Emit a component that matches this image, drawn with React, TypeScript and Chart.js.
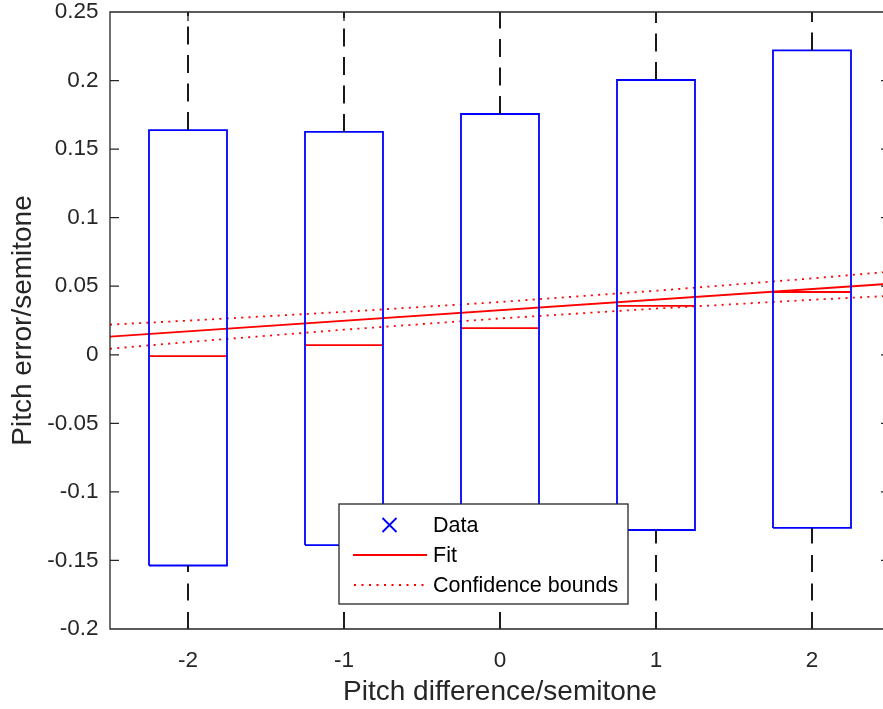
import React, { useEffect, useRef } from "react";
import { Chart, registerables } from "chart.js";

Chart.register(...registerables);

// ---- data ----
const positions = [-2, -1, 0, 1, 2];
const q3 = [0.1639, 0.1625, 0.1756, 0.2004, 0.222];
const medians = [-0.001, 0.0071, 0.0195, 0.0356, 0.0458];
const q1 = [-0.1537, -0.1388, -0.14, -0.1278, -0.1263];
const upperWhisker = [0.3, 0.31, 0.33, 0.35, 0.37];
const lowerWhisker = [-0.2416, -0.2624, -0.2416, -0.2624, -0.2416];

const fitX = [-2.5, 2.5];
const fitY = [0.0132, 0.0518];

const boundX = [-2.5, -2, -1, 0, 1, 2, 2.5];
const upperBound = [0.022, 0.0249, 0.0313, 0.0385, 0.0467, 0.0557, 0.0606];
const lowerBound = [0.0044, 0.0093, 0.0183, 0.0265, 0.0337, 0.0401, 0.043];

const xTicks = [-2, -1, 0, 1, 2];
const xTickLabels = ["-2", "-1", "0", "1", "2"];
const yTicks = [-0.2, -0.15, -0.1, -0.05, 0, 0.05, 0.1, 0.15, 0.2, 0.25];
const yTickLabels = ["-0.2", "-0.15", "-0.1", "-0.05", "0", "0.05", "0.1", "0.15", "0.2", "0.25"];

const legendLabels = ["Data", "Fit", "Confidence bounds"];
const xTitle = "Pitch difference/semitone";
const yTitle = "Pitch error/semitone";

// ---- styles ----
const FONT = "'Liberation Sans', Arial, Helvetica, sans-serif";
const AXIS = "#262626";
const BLUE = "#0000ff";
const RED = "#ff0000";
const BOX_HALF = 0.25;
const LW = 1.8;

function buildBoxes() {
  const pts: any[] = [];
  positions.forEach((p, i) => {
    pts.push({ x: p - BOX_HALF, y: q1[i] });
    pts.push({ x: p - BOX_HALF, y: q3[i] });
    pts.push({ x: p + BOX_HALF, y: q3[i] });
    pts.push({ x: p + BOX_HALF, y: q1[i] });
    pts.push({ x: p - BOX_HALF, y: q1[i] });
    pts.push({ x: p, y: null });
  });
  return pts;
}
function buildMedians() {
  const pts: any[] = [];
  positions.forEach((p, i) => {
    pts.push({ x: p - BOX_HALF, y: medians[i] });
    pts.push({ x: p + BOX_HALF, y: medians[i] });
    pts.push({ x: p, y: null });
  });
  return pts;
}
function buildUpperWhiskers() {
  const pts: any[] = [];
  positions.forEach((p, i) => {
    pts.push({ x: p, y: q3[i] });
    pts.push({ x: p, y: upperWhisker[i] });
    pts.push({ x: p, y: null });
  });
  return pts;
}
function buildLowerWhiskers() {
  const pts: any[] = [];
  positions.forEach((p, i) => {
    pts.push({ x: p, y: lowerWhisker[i] });
    pts.push({ x: p, y: q1[i] });
    pts.push({ x: p, y: null });
  });
  return pts;
}

const framePlugin = {
  id: "matlabFrame",
  afterDatasetsDraw(chart: any) {
    const { ctx, chartArea, scales } = chart;
    const { left, right, top, bottom } = chartArea;
    const xs = scales.x;
    const ys = scales.y;
    const tl = 9;
    ctx.save();
    ctx.strokeStyle = AXIS;
    ctx.lineWidth = 1.3;
    ctx.setLineDash([]);
    ctx.beginPath();
    ctx.rect(left, top, right - left, bottom - top);
    xTicks.forEach((v) => {
      const px = xs.getPixelForValue(v);
      ctx.moveTo(px, bottom);
      ctx.lineTo(px, bottom - tl);
      ctx.moveTo(px, top);
      ctx.lineTo(px, top + tl);
    });
    yTicks.forEach((v) => {
      const py = ys.getPixelForValue(v);
      ctx.moveTo(left, py);
      ctx.lineTo(left + tl, py);
      ctx.moveTo(right, py);
      ctx.lineTo(right - tl, py);
    });
    ctx.stroke();
    ctx.restore();
  },
};

const legendPlugin = {
  id: "matlabLegend",
  afterDraw(chart: any) {
    const { ctx } = chart;
    const bx = 339, by = 504, bw = 289, bh = 100;
    ctx.save();
    ctx.fillStyle = "#ffffff";
    ctx.fillRect(bx, by, bw, bh);
    ctx.strokeStyle = AXIS;
    ctx.lineWidth = 1.3;
    ctx.setLineDash([]);
    ctx.strokeRect(bx, by, bw, bh);

    const rows = [525, 555, 585];
    // Data marker (x)
    ctx.strokeStyle = BLUE;
    ctx.lineWidth = LW;
    ctx.beginPath();
    const mx = 389.5, my = rows[0], ms = 7;
    ctx.moveTo(mx - ms, my - ms);
    ctx.lineTo(mx + ms, my + ms);
    ctx.moveTo(mx + ms, my - ms);
    ctx.lineTo(mx - ms, my + ms);
    ctx.stroke();
    // Fit line
    ctx.strokeStyle = RED;
    ctx.beginPath();
    ctx.moveTo(353, rows[1]);
    ctx.lineTo(427, rows[1]);
    ctx.stroke();
    // Confidence dotted
    ctx.setLineDash([2, 5.5]);
    ctx.beginPath();
    ctx.moveTo(354, rows[2]);
    ctx.lineTo(424, rows[2]);
    ctx.stroke();
    ctx.setLineDash([]);

    ctx.fillStyle = "#000000";
    ctx.font = `21.5px ${FONT}`;
    ctx.textAlign = "left";
    ctx.textBaseline = "middle";
    legendLabels.forEach((t, i) => {
      ctx.fillText(t, 433, rows[i] + 1.5);
    });
    ctx.restore();
  },
};

export default function App() {
  const canvasRef = useRef<HTMLCanvasElement | null>(null);

  useEffect(() => {
    if (!canvasRef.current) return;
    const chart = new Chart(canvasRef.current, {
      type: "scatter",
      data: {
        datasets: [
          {
            label: "Upper whiskers",
            data: buildUpperWhiskers(),
            showLine: true,
            borderColor: "#000000",
            borderWidth: LW,
            borderDash: [18, 10.5],
            pointRadius: 0,
            clip: 0,
          } as any,
          {
            label: "Lower whiskers",
            data: buildLowerWhiskers(),
            showLine: true,
            borderColor: "#000000",
            borderWidth: LW,
            borderDash: [17, 11.5],
            pointRadius: 0,
            clip: 0,
          } as any,
          {
            label: "Boxes",
            data: buildBoxes(),
            showLine: true,
            borderColor: BLUE,
            borderWidth: LW,
            pointRadius: 0,
            clip: 0,
          } as any,
          {
            label: "Medians",
            data: buildMedians(),
            showLine: true,
            borderColor: RED,
            borderWidth: LW,
            pointRadius: 0,
            clip: 0,
          } as any,
          {
            label: "Fit",
            data: fitX.map((x, i) => ({ x, y: fitY[i] })),
            showLine: true,
            borderColor: RED,
            borderWidth: LW,
            pointRadius: 0,
            clip: 0,
          } as any,
          {
            label: "Upper bound",
            data: boundX.map((x, i) => ({ x, y: upperBound[i] })),
            showLine: true,
            borderColor: RED,
            borderWidth: LW,
            borderDash: [2, 5.3],
            pointRadius: 0,
            clip: 0,
          } as any,
          {
            label: "Lower bound",
            data: boundX.map((x, i) => ({ x, y: lowerBound[i] })),
            showLine: true,
            borderColor: RED,
            borderWidth: LW,
            borderDash: [2, 5.3],
            pointRadius: 0,
            clip: 0,
          } as any,
        ],
      },
      options: {
        animation: false,
        responsive: true,
        maintainAspectRatio: false,
        events: [],
        layout: { padding: { top: 12, right: 1, left: 0, bottom: 0 } },
        plugins: {
          legend: { display: false },
          tooltip: { enabled: false },
        },
        scales: {
          x: {
            type: "linear",
            min: -2.5,
            max: 2.5,
            grid: { display: false, drawTicks: false },
            border: { display: false },
            afterBuildTicks: (s: any) => {
              s.ticks = xTicks.map((v) => ({ value: v }));
            },
            afterFit: (s: any) => {
              s.height = 80;
              s.paddingLeft = 0;
              s.paddingRight = 0;
            },
            ticks: {
              autoSkip: false,
              maxRotation: 0,
              padding: 18,
              color: AXIS,
              font: { family: FONT, size: 22.5 },
              callback: (v: any) => xTickLabels[xTicks.indexOf(Number(v))] ?? "",
            },
            title: {
              display: true,
              text: xTitle,
              color: AXIS,
              font: { family: FONT, size: 28 },
              padding: { top: 0, bottom: 0 },
            },
          },
          y: {
            type: "linear",
            min: -0.2,
            max: 0.25,
            grid: { display: false, drawTicks: false },
            border: { display: false },
            afterBuildTicks: (s: any) => {
              s.ticks = yTicks.map((v) => ({ value: v }));
            },
            afterFit: (s: any) => {
              s.width = 110;
              s.paddingTop = 0;
              s.paddingBottom = 0;
            },
            ticks: {
              autoSkip: false,
              padding: 11.5,
              color: AXIS,
              font: { family: FONT, size: 22.5 },
              callback: (v: any) => {
                const i = yTicks.findIndex((t) => Math.abs(t - Number(v)) < 1e-9);
                return i >= 0 ? yTickLabels[i] : "";
              },
            },
            title: {
              display: true,
              text: yTitle,
              color: AXIS,
              font: { family: FONT, size: 28 },
              padding: { top: 6, bottom: 0 },
            },
          },
        },
      } as any,
      plugins: [framePlugin, legendPlugin],
    });
    return () => chart.destroy();
  }, []);

  return (
    <div
      style={{
        position: "fixed",
        left: 0,
        top: 0,
        width: 883,
        height: 709,
        overflow: "hidden",
        background: "#ffffff",
      }}
    >
      <div style={{ position: "relative", width: 891, height: 709 }}>
        <canvas ref={canvasRef} />
      </div>
    </div>
  );
}
